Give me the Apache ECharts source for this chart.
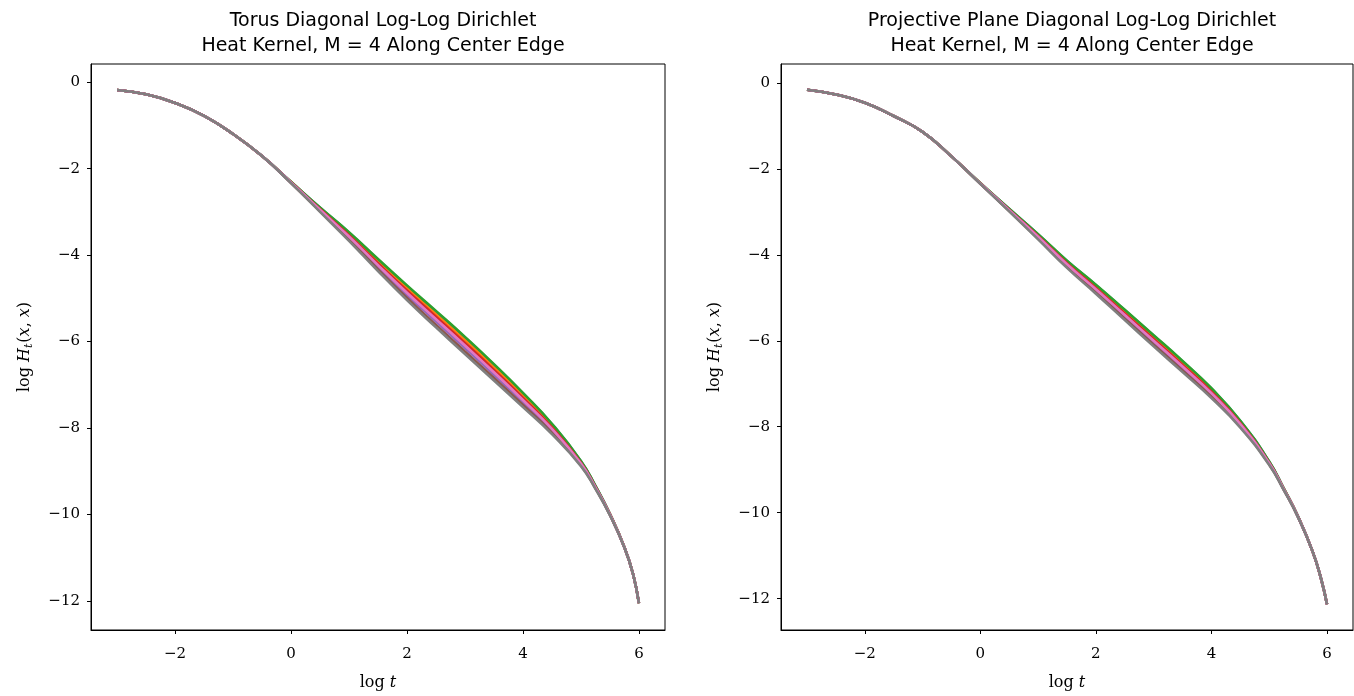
<!DOCTYPE html>
<html>
<head>
<meta charset="utf-8">
<script src="https://cdn.jsdelivr.net/npm/echarts@6/dist/echarts.min.js"></script>
<style>html,body{margin:0;padding:0;background:#fff;}#c{width:1354px;height:696px;}</style>
</head>
<body>
<div id="c"></div>
<script>
// log t sample positions
const logT = [-3, -2.5, -2, -1.5, -1, -0.5, 0, 0.5, 1, 1.5, 2, 2.5, 3, 3.5, 4, 4.5, 5, 5.25, 5.5, 5.75, 5.9, 6];
const xTicks = [-2, 0, 2, 4, 6];
const yTicks = [0, -2, -4, -6, -8, -10, -12];
const titles = ['Torus Diagonal Log-Log Dirichlet\nHeat Kernel, M = 4 Along Center Edge',
                'Projective Plane Diagonal Log-Log Dirichlet\nHeat Kernel, M = 4 Along Center Edge'];
const lineColors = ['#1f77b4', '#ff7f0e', '#2ca02c', '#d62728', '#9467bd', '#8c564b', '#e377c2', '#7f7f7f'];

// Torus (left panel)
const torusBlue   = [-0.18,-0.28,-0.48,-0.78,-1.20,-1.71,-2.307,-2.905,-3.48,-4.104,-4.717,-5.309,-5.91,-6.539,-7.20,-7.912,-8.766,-9.339,-9.987,-10.756,-11.38,-12.05];
const torusOrange = [-0.18,-0.28,-0.48,-0.78,-1.20,-1.71,-2.311,-2.92,-3.51,-4.146,-4.768,-5.366,-5.97,-6.596,-7.251,-7.948,-8.784,-9.349,-9.991,-10.757,-11.38,-12.05];
const torusGreen  = [-0.18,-0.28,-0.48,-0.78,-1.20,-1.71,-2.305,-2.90,-3.47,-4.09,-4.70,-5.29,-5.89,-6.52,-7.185,-7.90,-8.76,-9.335,-9.985,-10.755,-11.38,-12.05];
const torusRed    = [-0.18,-0.28,-0.48,-0.78,-1.20,-1.71,-2.316,-2.935,-3.54,-4.188,-4.819,-5.423,-6.03,-6.653,-7.30,-7.984,-8.802,-9.36,-9.996,-10.759,-11.38,-12.05];
const torusPurple = [-0.18,-0.28,-0.48,-0.78,-1.20,-1.71,-2.325,-2.965,-3.60,-4.272,-4.921,-5.537,-6.15,-6.767,-7.40,-8.056,-8.838,-9.381,-10.005,-10.762,-11.38,-12.05];
const torusBrown  = [-0.18,-0.28,-0.48,-0.78,-1.20,-1.71,-2.331,-2.985,-3.64,-4.328,-4.989,-5.613,-6.23,-6.843,-7.466,-8.104,-8.862,-9.395,-10.011,-10.764,-11.38,-12.05];
const torusPink   = [-0.18,-0.28,-0.48,-0.78,-1.20,-1.71,-2.32,-2.95,-3.57,-4.23,-4.87,-5.48,-6.09,-6.71,-7.35,-8.02,-8.82,-9.37,-10.00,-10.76,-11.38,-12.05];
const torusGray   = [-0.18,-0.28,-0.48,-0.78,-1.20,-1.71,-2.335,-3.00,-3.67,-4.37,-5.04,-5.67,-6.29,-6.90,-7.515,-8.14,-8.88,-9.405,-10.015,-10.765,-11.38,-12.05];

// Projective plane (right panel)
const projBlue   = [-0.16,-0.27,-0.46,-0.77,-1.14,-1.71,-2.331,-2.933,-3.526,-4.144,-4.706,-5.292,-5.883,-6.483,-7.117,-7.868,-8.814,-9.432,-10.091,-10.90,-11.55,-12.13];
const projOrange = [-0.16,-0.27,-0.46,-0.77,-1.14,-1.71,-2.334,-2.942,-3.544,-4.169,-4.737,-5.328,-5.922,-6.522,-7.151,-7.892,-8.826,-9.438,-10.094,-10.90,-11.55,-12.13];
const projGreen  = [-0.16,-0.27,-0.46,-0.77,-1.14,-1.71,-2.33,-2.93,-3.52,-4.135,-4.695,-5.28,-5.87,-6.47,-7.105,-7.86,-8.81,-9.43,-10.09,-10.90,-11.55,-12.13];
const projRed    = [-0.16,-0.27,-0.46,-0.77,-1.14,-1.71,-2.337,-2.951,-3.562,-4.195,-4.769,-5.364,-5.961,-6.561,-7.186,-7.916,-8.838,-9.444,-10.097,-10.90,-11.55,-12.13];
const projPurple = [-0.16,-0.27,-0.46,-0.77,-1.14,-1.71,-2.343,-2.969,-3.598,-4.246,-4.832,-5.436,-6.039,-6.639,-7.255,-7.964,-8.862,-9.456,-10.103,-10.90,-11.55,-12.13];
const projBrown  = [-0.16,-0.27,-0.46,-0.77,-1.14,-1.71,-2.347,-2.981,-3.622,-4.28,-4.874,-5.484,-6.091,-6.691,-7.301,-7.996,-8.878,-9.464,-10.107,-10.90,-11.55,-12.13];
const projPink   = [-0.16,-0.27,-0.46,-0.77,-1.14,-1.71,-2.34,-2.96,-3.58,-4.22,-4.80,-5.40,-6.00,-6.60,-7.22,-7.94,-8.85,-9.45,-10.10,-10.90,-11.55,-12.13];
const projGray   = [-0.16,-0.27,-0.46,-0.77,-1.14,-1.71,-2.35,-2.99,-3.64,-4.305,-4.905,-5.52,-6.13,-6.73,-7.335,-8.02,-8.89,-9.47,-10.11,-10.90,-11.55,-12.13];

const torusLines = [torusBlue, torusOrange, torusGreen, torusRed, torusPurple, torusBrown, torusPink, torusGray];
const projLines  = [projBlue, projOrange, projGreen, projRed, projPurple, projBrown, projPink, projGray];

const chart = echarts.init(document.getElementById('c'), null, {renderer: 'canvas'});
const serif = 'DejaVu Serif, Liberation Serif, serif';
const sans = 'DejaVu Sans, Liberation Sans, sans-serif';
const minus = v => String(v).replace('-', '\u2212');

function xAxisDef(gi) {
  return {
    type: 'value', gridIndex: gi, min: -3.45, max: 6.45,
    axisLine: {show: true, onZero: false, lineStyle: {color: '#000', width: 1}},
    axisTick: {show: true, length: 4, customValues: xTicks, lineStyle: {color: '#000'}},
    axisLabel: {customValues: xTicks, formatter: minus, color: '#000', fontFamily: serif, fontSize: 15, margin: 17},
    splitLine: {show: false},
    name: '{r|log }{i|t}', nameLocation: 'middle', nameGap: 45,
    nameTextStyle: {rich: {r: {fontFamily: serif, fontSize: 16, color: '#000'}, i: {fontFamily: serif, fontSize: 16, fontStyle: 'italic', color: '#000'}}}
  };
}
function yAxisDef(gi, mn, mx) {
  return {
    type: 'value', gridIndex: gi, min: mn, max: mx,
    axisLine: {show: true, onZero: false, lineStyle: {color: '#000', width: 1}},
    axisTick: {show: true, length: 4, customValues: yTicks, lineStyle: {color: '#000'}},
    axisLabel: {customValues: yTicks, formatter: minus, color: '#000', fontFamily: serif, fontSize: 15, margin: 11},
    splitLine: {show: false},
    name: '{r|log }{i|H}{s|t}{r|(}{i|x}{r|, }{i|x}{r|)}', nameLocation: 'middle', nameGap: 56, nameRotate: 90,
    nameTextStyle: {rich: {
      r: {fontFamily: serif, fontSize: 16, color: '#000'},
      i: {fontFamily: serif, fontSize: 16, fontStyle: 'italic', color: '#000'},
      s: {fontFamily: serif, fontSize: 11, fontStyle: 'italic', color: '#000', padding: [9, 1, 0, 0]}
    }}
  };
}

const series = [];
[torusLines, projLines].forEach((lines, gi) => {
  lines.forEach((ys, k) => {
    series.push({
      type: 'line', xAxisIndex: gi, yAxisIndex: gi,
      data: logT.map((x, i) => [x, ys[i]]),
      showSymbol: false, smooth: 0.5,
      lineStyle: {color: lineColors[k], width: 2.6},
      itemStyle: {color: lineColors[k]},
      z: 2 + k
    });
  });
});

chart.setOption({
  animation: false,
  backgroundColor: '#fff',
  title: [
    {text: titles[0], left: 378, top: 4, textAlign: 'center', textStyle: {fontFamily: sans, fontSize: 19, fontWeight: 'normal', color: '#000', lineHeight: 25}},
    {text: titles[1], left: 1067, top: 4, textAlign: 'center', textStyle: {fontFamily: sans, fontSize: 19, fontWeight: 'normal', color: '#000', lineHeight: 25}}
  ],
  grid: [
    {left: 91, top: 64, width: 574, height: 570, show: true, borderColor: '#000', borderWidth: 1, backgroundColor: 'transparent'},
    {left: 781, top: 64, width: 572, height: 570, show: true, borderColor: '#000', borderWidth: 1, backgroundColor: 'transparent'}
  ],
  xAxis: [xAxisDef(0), xAxisDef(1)],
  yAxis: [yAxisDef(0, -12.67, 0.42), yAxisDef(1, -12.73, 0.44)],
  series: series
});
</script>
</body>
</html>
